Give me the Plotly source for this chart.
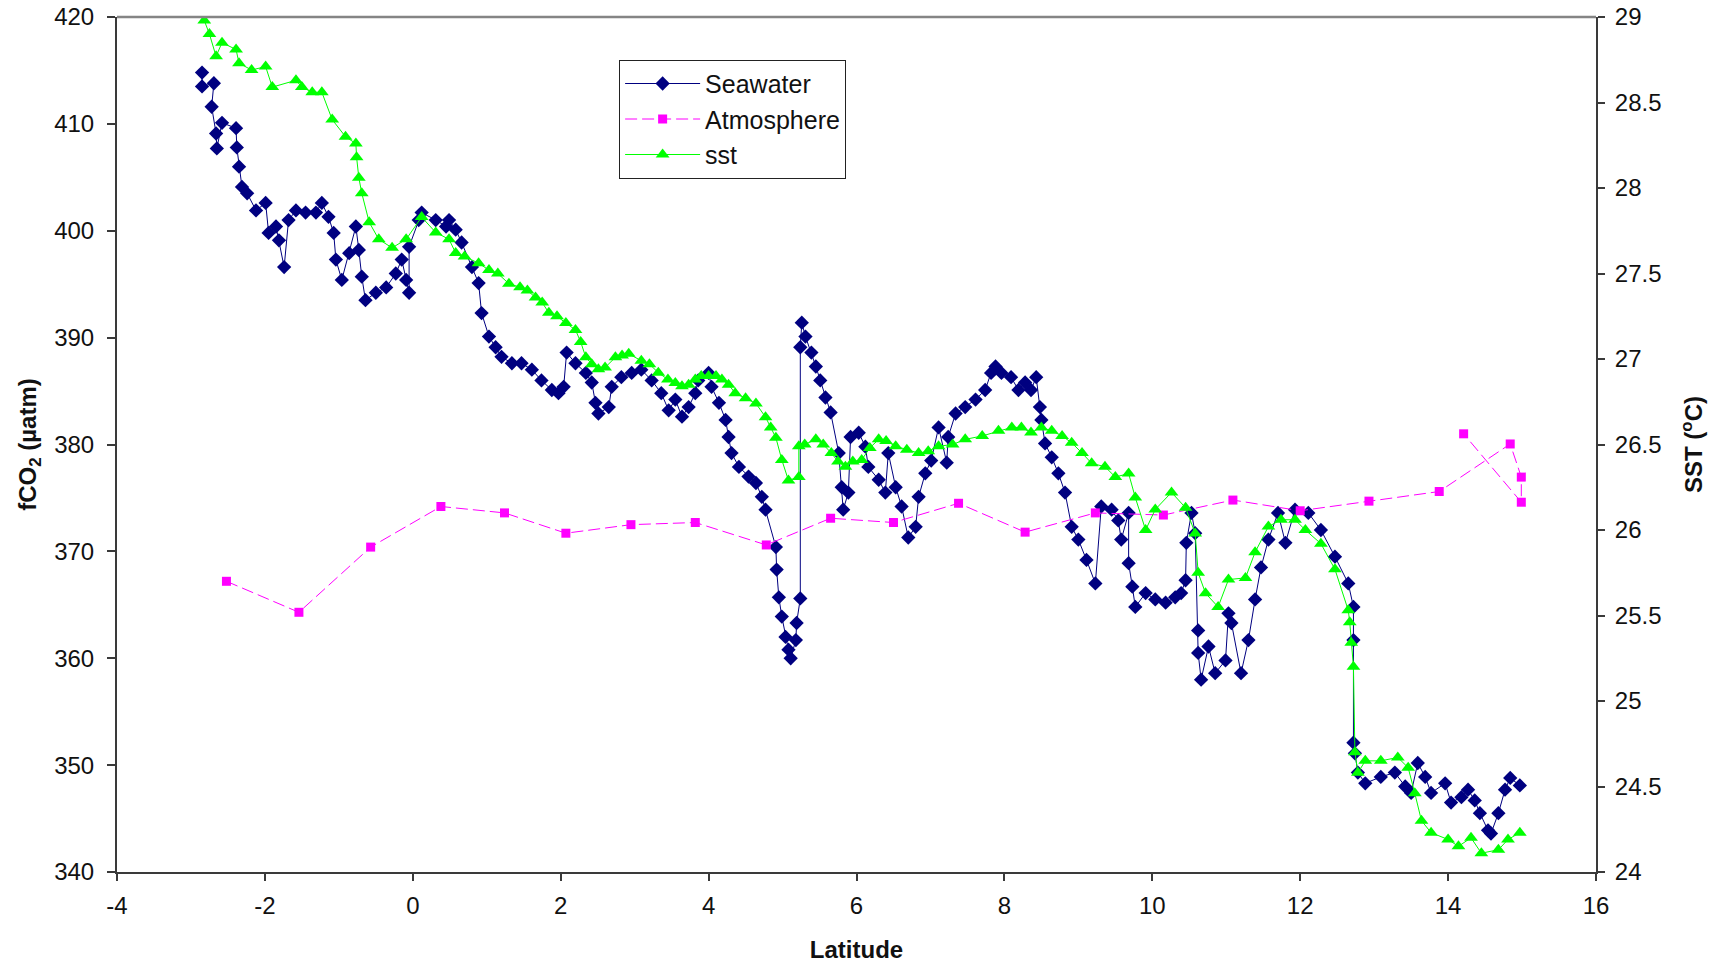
import plotly.graph_objects as go

# ---------------- data ----------------
sea_lat = [-2.85, -2.85, -2.69, -2.72, -2.66, -2.65, -2.58, -2.39, -2.38, -2.35, -2.31, -2.24, -2.12, -1.99,
           -1.95, -1.85, -1.81, -1.74, -1.68, -1.58, -1.45, -1.31, -1.23, -1.14, -1.07, -1.04, -0.96, -0.86,
           -0.77, -0.73, -0.69, -0.64, -0.50, -0.36, -0.23, -0.15, -0.09, -0.05, -0.05, 0.08, 0.12, 0.31,
           0.45, 0.49, 0.58, 0.66, 0.80, 0.89, 0.93, 1.03, 1.12, 1.20, 1.34, 1.47, 1.61, 1.74, 1.88, 1.97,
           2.04, 2.08, 2.20, 2.34, 2.42, 2.47, 2.51, 2.65, 2.69, 2.82, 2.96, 3.09, 3.23, 3.36, 3.46, 3.55,
           3.64, 3.73, 3.82, 3.86, 4.00, 4.04, 4.14, 4.23, 4.27, 4.31, 4.41, 4.54, 4.64, 4.72, 4.77, 4.91,
           4.92, 4.95, 4.99, 5.04, 5.08, 5.11, 5.18, 5.19, 5.24, 5.24, 5.26, 5.31, 5.39, 5.45, 5.51, 5.58,
           5.65, 5.76, 5.80, 5.82, 5.89, 5.92, 6.03, 6.12, 6.16, 6.30, 6.39, 6.43, 6.53, 6.61, 6.70, 6.80,
           6.84, 6.93, 7.01, 7.11, 7.22, 7.24, 7.34, 7.47, 7.61, 7.74, 7.82, 7.88, 7.96, 8.09, 8.19, 8.28,
           8.36, 8.43, 8.48, 8.50, 8.55, 8.64, 8.73, 8.82, 8.91, 9.00, 9.11, 9.23, 9.31, 9.45, 9.54, 9.58,
           9.68, 9.68, 9.73, 9.77, 9.91, 10.04, 10.18, 10.31, 10.39, 10.45, 10.46, 10.53, 10.58, 10.62,
           10.62, 10.66, 10.76, 10.85, 10.99, 11.03, 11.07, 11.20, 11.30, 11.39, 11.47, 11.57, 11.70, 11.80,
           11.93, 12.11, 12.28, 12.47, 12.65, 12.72, 12.72, 12.72, 12.74, 12.78, 12.88, 13.09, 13.28, 13.42,
           13.50, 13.59, 13.69, 13.77, 13.96, 14.04, 14.18, 14.27, 14.36, 14.43, 14.54, 14.58, 14.68, 14.77,
           14.84, 14.97]
sea_fco2 = [414.8, 413.5, 413.8, 411.6, 409.1, 407.7, 410.1, 409.6, 407.8, 406.0, 404.1, 403.5, 401.9, 402.6,
            399.8, 400.4, 399.1, 396.6, 401.0, 401.9, 401.7, 401.7, 402.6, 401.3, 399.8, 397.3, 395.4, 397.9,
            400.4, 398.2, 395.7, 393.5, 394.2, 394.7, 396.0, 397.3, 395.4, 394.2, 398.5, 401.0, 401.7, 401.0,
            400.4, 401.0, 400.1, 398.9, 396.6, 395.1, 392.3, 390.1, 389.1, 388.2, 387.6, 387.6, 387.0, 386.0,
            385.1, 384.8, 385.4, 388.6, 387.6, 386.7, 385.8, 383.9, 382.9, 383.5, 385.4, 386.3, 386.7, 387.0,
            386.0, 384.8, 383.2, 384.2, 382.6, 383.5, 384.8, 386.0, 386.7, 385.4, 383.9, 382.3, 380.7, 379.2,
            377.9, 377.0, 376.4, 375.1, 373.9, 370.4, 368.3, 365.7, 363.9, 362.0, 360.8, 360.0, 361.7, 363.3,
            365.6, 389.1, 391.4, 390.1, 388.6, 387.3, 386.0, 384.4, 383.0, 379.2, 376.0, 373.9, 375.5, 380.7,
            381.1, 379.8, 377.9, 376.7, 375.5, 379.2, 376.0, 374.2, 371.3, 372.3, 375.1, 377.3, 378.5, 381.6,
            378.3, 380.7, 382.9, 383.5, 384.2, 385.1, 386.7, 387.3, 386.7, 386.3, 385.1, 385.8, 385.1, 386.3,
            383.5, 382.3, 380.1, 378.8, 377.3, 375.5, 372.3, 371.1, 369.2, 367.0, 374.2, 373.9, 372.9, 371.1,
            373.6, 368.9, 366.7, 364.8, 366.1, 365.5, 365.2, 365.7, 366.1, 367.3, 370.8, 373.6, 371.7, 362.6,
            360.5, 358.0, 361.1, 358.6, 359.8, 364.2, 363.3, 358.6, 361.7, 365.5, 368.5, 371.1, 373.6, 370.8,
            373.9, 373.6, 372.0, 369.5, 367.0, 364.8, 361.7, 352.1, 351.1, 349.3, 348.3, 348.9, 349.3, 348.0,
            347.4, 350.2, 348.9, 347.4, 348.3, 346.5, 347.0, 347.7, 346.7, 345.5, 343.9, 343.6, 345.5, 347.7,
            348.8, 348.1]

atm_lat = [-2.52, -1.54, -0.57, 0.38, 1.24, 2.07, 2.95, 3.82, 4.78, 5.65, 6.50, 7.38, 8.28, 9.23, 10.15,
           11.09, 12.0, 12.93, 13.88, 14.84, 14.99, 14.99, 14.21]
atm_fco2 = [367.2, 364.3, 370.4, 374.2, 373.6, 371.7, 372.5, 372.7, 370.6, 373.1, 372.7, 374.5, 371.8, 373.6,
            373.4, 374.8, 373.8, 374.7, 375.6, 380.05, 376.95, 374.6, 381.0]

sst_lat = [-2.82, -2.75, -2.66, -2.58, -2.39, -2.35, -2.18, -1.99, -1.90, -1.58, -1.50, -1.36, -1.23, -1.09,
           -0.91, -0.77, -0.76, -0.73, -0.69, -0.59, -0.46, -0.28, -0.09, 0.12, 0.31, 0.49, 0.58, 0.70, 0.89,
           1.03, 1.15, 1.30, 1.45, 1.55, 1.66, 1.75, 1.84, 1.95, 2.07, 2.20, 2.27, 2.34, 2.42, 2.51, 2.60,
           2.74, 2.83, 2.92, 3.09, 3.20, 3.32, 3.45, 3.55, 3.64, 3.73, 3.82, 3.90, 4.00, 4.10, 4.18, 4.27,
           4.36, 4.50, 4.64, 4.77, 4.84, 4.91, 4.99, 5.08, 5.22, 5.22, 5.30, 5.45, 5.55, 5.66, 5.75, 5.85,
           5.95, 6.07, 6.18, 6.30, 6.40, 6.53, 6.68, 6.84, 6.97, 7.11, 7.30, 7.47, 7.70, 7.92, 8.10, 8.23,
           8.36, 8.50, 8.64, 8.78, 8.91, 9.05, 9.18, 9.36, 9.50, 9.68, 9.77, 9.91, 10.04, 10.26, 10.45, 10.58,
           10.62, 10.72, 10.89, 11.03, 11.26, 11.39, 11.57, 11.74, 11.93, 12.07, 12.28, 12.47, 12.65, 12.67,
           12.69, 12.72, 12.74, 12.78, 12.88, 13.09, 13.32, 13.46, 13.55, 13.64, 13.77, 14.00, 14.14, 14.31,
           14.45, 14.68, 14.81, 14.97]
sst_val = [28.98, 28.90, 28.77, 28.85, 28.81, 28.73, 28.69, 28.71, 28.59, 28.63, 28.59, 28.56, 28.56, 28.40,
           28.30, 28.26, 28.18, 28.06, 27.97, 27.80, 27.70, 27.65, 27.70, 27.83, 27.74, 27.70, 27.62, 27.60,
           27.56, 27.52, 27.50, 27.44, 27.42, 27.40, 27.36, 27.33, 27.27, 27.25, 27.21, 27.17, 27.10, 27.01,
           26.97, 26.94, 26.95, 27.01, 27.02, 27.03, 26.99, 26.97, 26.92, 26.88, 26.86, 26.84, 26.85, 26.88,
           26.90, 26.90, 26.90, 26.88, 26.85, 26.80, 26.77, 26.74, 26.66, 26.60, 26.54, 26.41, 26.29, 26.31,
           26.49, 26.50, 26.53, 26.50, 26.45, 26.40, 26.37, 26.40, 26.41, 26.48, 26.53, 26.52, 26.49, 26.47,
           26.45, 26.46, 26.49, 26.50, 26.53, 26.55, 26.58, 26.60, 26.60, 26.57, 26.60, 26.58, 26.55, 26.51,
           26.45, 26.39, 26.37, 26.31, 26.33, 26.19, 26.00, 26.12, 26.22, 26.13, 25.98, 25.75, 25.63, 25.55,
           25.71, 25.72, 25.87, 26.02, 26.06, 26.06, 26.00, 25.92, 25.77, 25.53, 25.46, 25.34, 25.20, 24.70,
           24.58, 24.65, 24.65, 24.67, 24.61, 24.46, 24.30, 24.23, 24.19, 24.15, 24.20, 24.11, 24.13, 24.19,
           24.23]

x_ticks = [-4, -2, 0, 2, 4, 6, 8, 10, 12, 14, 16]

# ---------------- figure ----------------
FONT = "Liberation Sans, Arial, sans-serif"
AX = "#3a3a3a"

fig = go.Figure()
fig.add_trace(go.Scatter(
    x=sea_lat, y=sea_fco2, name="Seawater", mode="lines+markers",
    line=dict(color="#000080", width=1),
    marker=dict(symbol="diamond", size=11, color="#000080", line=dict(width=0)),
    yaxis="y"))
fig.add_trace(go.Scatter(
    x=atm_lat, y=atm_fco2, name="Atmosphere", mode="lines+markers",
    line=dict(color="#FF00FF", width=1, dash="12px,5px"),
    marker=dict(symbol="square", size=9, color="#FF00FF", line=dict(width=0)),
    yaxis="y"))
fig.add_trace(go.Scatter(
    x=sst_lat, y=sst_val, name="sst", mode="lines+markers",
    line=dict(color="#00FF00", width=1),
    marker=dict(symbol="triangle-up", size=12, color="#00FF00", line=dict(width=0)),
    yaxis="y2"))

# the page body adds an 8px offset, so the figure is 8px smaller with 8px less left/top margin
fig.update_layout(
    width=1723, height=960,
    margin=dict(l=109, r=135, t=9, b=96, autoexpand=False),
    paper_bgcolor="white", plot_bgcolor="white",
    font=dict(family=FONT, size=24, color="#111111"),
    showlegend=True,
    legend=dict(x=0.3395, y=0.95, xanchor="left", yanchor="top",
                bordercolor="#222222", borderwidth=1, bgcolor="white",
                font=dict(family=FONT, size=25, color="#111111"),
                itemwidth=75, tracegroupgap=0),
    xaxis=dict(range=[-4, 16], tickvals=x_ticks, ticktext=[str(v) for v in x_ticks],
               automargin=False, ticklabeloverflow="allow",
               showgrid=False, zeroline=False, showline=True, linecolor=AX, linewidth=2,
               ticks="outside", ticklen=7, tickwidth=1.5, tickcolor=AX, ticklabelstandoff=4,
               tickfont=dict(size=24, family=FONT),
               title=dict(text="<b>Latitude</b>", font=dict(size=24, family=FONT), standoff=23)),
    yaxis=dict(range=[340, 420], dtick=10, showgrid=False, zeroline=False, automargin=False,
               ticklabeloverflow="allow",
               showline=True, linecolor=AX, linewidth=2,
               ticks="outside", ticklen=8, tickwidth=1.5, tickcolor=AX, ticklabelstandoff=8,
               tickfont=dict(size=24, family=FONT),
               title=dict(text="<b>fCO<sub>2</sub> (µatm)</b>", font=dict(size=24, family=FONT), standoff=11)),
    yaxis2=dict(range=[24, 29], dtick=0.5, overlaying="y", side="right", anchor="x", automargin=False,
                ticklabeloverflow="allow",
                showgrid=False, zeroline=False, showline=True, linecolor=AX, linewidth=2,
                ticks="outside", ticklen=7, tickwidth=1.5, tickcolor=AX, ticklabelstandoff=5,
                tickfont=dict(size=24, family=FONT),
                title=dict(text="<b>SST (<sup>o</sup>C)</b>", font=dict(size=24, family=FONT), standoff=25)),
    yaxis3=dict(range=[24, 29], dtick=0.5, overlaying="y", side="right", anchor="x", automargin=False,
                showgrid=False, zeroline=False, showline=False, showticklabels=False,
                ticks="inside", ticklen=7, tickwidth=1.5, tickcolor=AX),
    shapes=[dict(type="line", xref="paper", yref="paper", x0=0, x1=1, y0=1, y1=1,
                 line=dict(color="#858585", width=2.5))],
)

fig.write_html("out.html")
